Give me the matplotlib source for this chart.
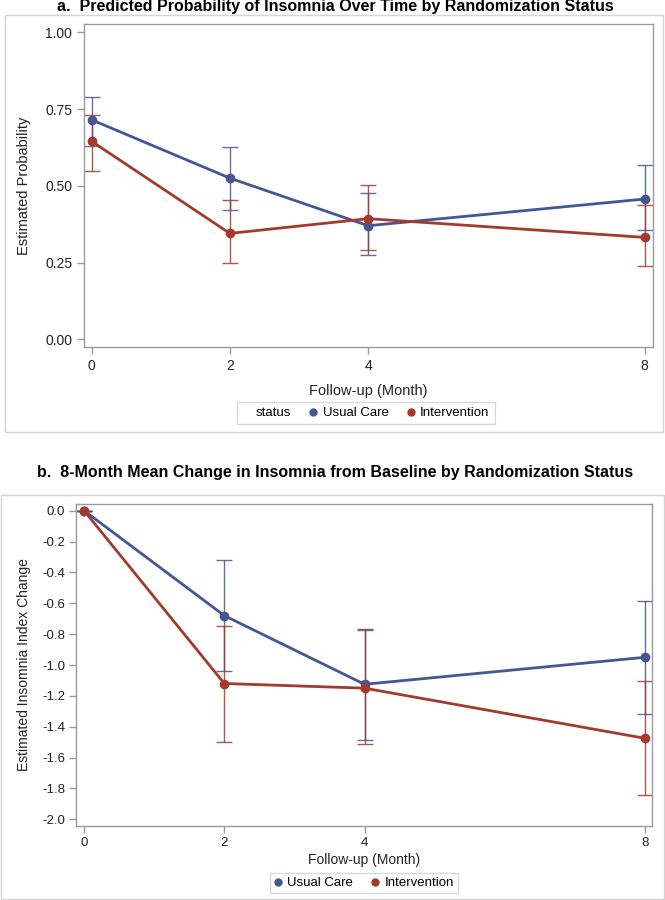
import matplotlib
matplotlib.use("Agg")
import matplotlib.pyplot as plt
from matplotlib.lines import Line2D
from matplotlib.patches import Rectangle

plt.rcParams['font.family'] = ['Liberation Sans', 'DejaVu Sans']

months = [0, 2, 4, 8]
month_labels = ['0', '2', '4', '8']

# panel a - predicted probability
prob_usual = [0.715, 0.525, 0.370, 0.457]
prob_usual_lo = [0.630, 0.420, 0.275, 0.355]
prob_usual_hi = [0.790, 0.625, 0.475, 0.567]
prob_interv = [0.645, 0.345, 0.393, 0.332]
prob_interv_lo = [0.548, 0.250, 0.290, 0.240]
prob_interv_hi = [0.730, 0.455, 0.503, 0.437]

# panel b - mean change from baseline
chg_usual = [0.0, -0.680, -1.125, -0.950]
chg_usual_lo = [0.0, -1.040, -1.485, -1.320]
chg_usual_hi = [0.0, -0.320, -0.770, -0.585]
chg_interv = [0.0, -1.120, -1.150, -1.475]
chg_interv_lo = [0.0, -1.500, -1.515, -1.840]
chg_interv_hi = [0.0, -0.750, -0.775, -1.105]

BLUE = '#445694'
RED = '#A23A2E'
GRAY = '#9a9a9a'
W, H = 665.0, 900.0

fig = plt.figure(figsize=(6.65, 9.0), dpi=100)


def px_axes(left, top, right, bottom):
    return fig.add_axes([left / W, 1 - bottom / H, (right - left) / W, (bottom - top) / H])


def frame(left, top, right, bottom):
    fig.patches.append(Rectangle((left / W, 1 - bottom / H), (right - left) / W, (bottom - top) / H,
                                 transform=fig.transFigure, fill=False, edgecolor='#d4d4d4', linewidth=1.0))


def draw_series(ax, y, lo, hi, color):
    yerr = [[v - l for v, l in zip(y, lo)], [h - v for v, h in zip(y, hi)]]
    ax.errorbar(months, y, yerr=yerr, fmt='none', ecolor=color, elinewidth=1.0,
                capsize=6, capthick=1.0, alpha=0.85, zorder=2)
    ax.plot(months, y, color=color, linewidth=2.0, marker='o', markersize=6, zorder=3)


def style(ax):
    for s in ax.spines.values():
        s.set_color(GRAY)
        s.set_linewidth(1.0)
    ax.tick_params(axis='both', colors=GRAY, length=5, width=1, labelcolor='#222222', labelsize=10)
    ax.set_xticks(months)
    ax.set_xticklabels(month_labels)


# ---- panel a
frame(5, 15, 663, 432)
fig.text(335 / W, 1 - 7 / H, 'a.  Predicted Probability of Insomnia Over Time by Randomization Status',
         ha='center', va='center', fontsize=11.5, fontweight='bold')
ax1 = px_axes(84, 24, 653, 347)
draw_series(ax1, prob_usual, prob_usual_lo, prob_usual_hi, BLUE)
draw_series(ax1, prob_interv, prob_interv_lo, prob_interv_hi, RED)
ax1.set_xlim(-0.11, 8.12)
ax1.set_ylim(-0.025, 1.027)
ax1.set_yticks([0, 0.25, 0.5, 0.75, 1.0])
ax1.set_yticklabels(['0.00', '0.25', '0.50', '0.75', '1.00'])
style(ax1)
ax1.set_xlabel('Follow-up (Month)', fontsize=10.5, color='#222222', labelpad=8)
ax1.set_ylabel('Estimated Probability', fontsize=10.5, color='#222222', labelpad=10)

h_status = Line2D([], [], linestyle='none', marker='None')
h_usual = Line2D([], [], linestyle='none', marker='o', color=BLUE, markersize=5)
h_interv = Line2D([], [], linestyle='none', marker='o', color=RED, markersize=5)
leg1 = fig.legend([h_status, h_usual, h_interv], ['status', 'Usual Care', 'Intervention'],
                  loc='center', bbox_to_anchor=(366 / W, 1 - 413 / H), ncol=3, fontsize=9.5,
                  frameon=True, fancybox=False, edgecolor='#cfcfcf', handlelength=0.6,
                  handletextpad=0.4, columnspacing=1.4, borderpad=0.4)
leg1.get_frame().set_linewidth(1.0)

# ---- panel b
frame(1, 495, 664, 899)
fig.text(335 / W, 1 - 473 / H, 'b.  8-Month Mean Change in Insomnia from Baseline by Randomization Status',
         ha='center', va='center', fontsize=11.5, fontweight='bold')
ax2 = px_axes(76, 504, 652, 826)
draw_series(ax2, chg_usual, chg_usual_lo, chg_usual_hi, BLUE)
draw_series(ax2, chg_interv, chg_interv_lo, chg_interv_hi, RED)
ax2.set_xlim(-0.115, 8.10)
ax2.set_ylim(-2.043, 0.043)
ax2.set_yticks([0.0, -0.2, -0.4, -0.6, -0.8, -1.0, -1.2, -1.4, -1.6, -1.8, -2.0])
ax2.set_yticklabels(['0.0', '-0.2', '-0.4', '-0.6', '-0.8', '-1.0', '-1.2', '-1.4', '-1.6', '-1.8', '-2.0'])
style(ax2)
ax2.tick_params(labelsize=9.5, pad=3)
ax2.set_xlabel('Follow-up (Month)', fontsize=10, color='#222222', labelpad=3)
ax2.set_ylabel('Estimated Insomnia Index Change', fontsize=10, color='#222222', labelpad=8)

leg2 = fig.legend([h_usual, h_interv], ['Usual Care', 'Intervention'],
                  loc='center', bbox_to_anchor=(364 / W, 1 - 883 / H), ncol=2, fontsize=9.5,
                  frameon=True, fancybox=False, edgecolor='#cfcfcf', handlelength=0.6,
                  handletextpad=0.4, columnspacing=1.4, borderpad=0.3)
leg2.get_frame().set_linewidth(1.0)

fig.savefig('out.png', dpi=100)
